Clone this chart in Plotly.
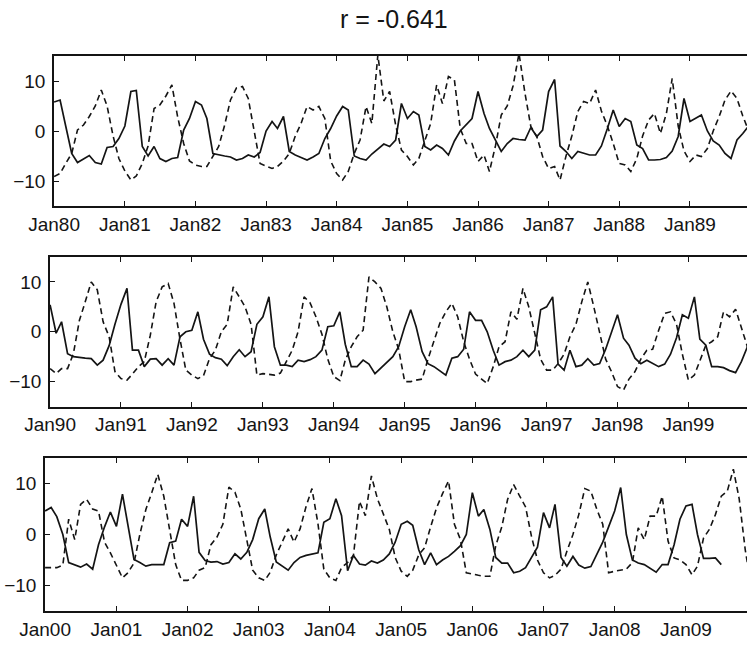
import pandas as pd
import plotly.graph_objects as go

# Monthly anomaly series, one decade per panel (solid and dashed series)
title_text = "r = -0.641"
decade_starts = ["1980-01-01", "1990-01-01", "2000-01-01"]

solid_1980s = [
    5.8, 6.2, 1.0, -4.5, -6.3, -5.5, -4.9, -6.3, -6.6, -3.3, -3.1, -1.5,
    1.0, 7.9, 8.1, -3.1, -5.0, -3.1, -5.5, -6.1, -5.5, -5.3, 0.2, 2.5,
    5.9, 5.2, 2.5, -4.5, -4.8, -5.0, -5.2, -5.8, -5.5, -4.8, -5.2, -4.3,
    0.0, 1.9, 0.5, 2.9, -4.1, -4.8, -5.3, -5.8, -5.2, -4.5, -1.5, 0.5,
    3.0, 4.9, 4.2, -5.0, -5.5, -5.8, -4.6, -3.5, -2.6, -3.1, -1.8, 5.5,
    2.5, 3.9, 3.2, -3.1, -3.8, -2.8, -3.5, -4.8, -2.0, 0.0, 1.2, 2.5,
    7.9, 3.5, 0.5, -2.0, -4.1, -2.5, -1.5, -1.7, -1.8, 0.7, -1.1, 0.2,
    7.9, 10.3, -3.0, -4.1, -5.5, -4.1, -4.5, -4.8, -4.8, -3.0, 0.5, 4.2,
    0.9, 2.5, 1.9, -2.8, -3.5, -5.8, -5.8, -5.7, -5.3, -4.0, -1.1, 6.5,
    1.9, 2.5, 3.2, 0.0, -2.0, -2.8, -4.5, -5.5, -1.8, -0.5, 1.0, 2.0,
]
dashed_1980s = [
    -9.1, -8.5, -6.5, -4.5, 0.2, 1.2, 2.9, 5.0, 8.2, 5.0, -1.0, -5.5,
    -8.0, -9.8, -9.0, -6.5, -3.0, 4.5, 5.2, 7.0, 9.2, 2.8, -2.5, -6.0,
    -6.8, -7.1, -7.1, -5.0, -3.1, 1.2, 6.2, 8.6, 8.9, 6.5, -0.5, -6.5,
    -7.0, -7.5, -7.1, -6.0, -4.5, -1.0, 1.5, 4.9, 4.2, 4.9, 2.5, -6.0,
    -8.5, -9.8, -8.1, -4.5, -1.8, 4.9, 1.5, 15.2, 6.0, 7.9, 1.2, -3.8,
    -5.1, -6.8, -5.5, -2.0, 1.5, 9.2, 5.5, 10.9, 10.2, 0.5, -2.5, -2.5,
    -6.1, -4.8, -8.1, -3.0, 3.2, 5.0, 9.0, 15.5, 7.5, 0.9, -1.1, -5.1,
    -7.5, -7.1, -9.8, -5.0, -1.0, 3.9, 5.9, 5.5, 8.2, 4.0, 1.0, -2.5,
    -6.5, -6.8, -8.1, -5.5, -1.0, 2.2, 3.5, -0.5, 3.5, 10.5, 1.0, -4.0,
    -6.1, -4.8, -5.1, -3.5, 0.0, 2.9, 6.2, 8.0, 6.5, 3.0, 0.0, -3.0,
]

solid_1990s = [
    5.4, -0.3, 2.0, -4.4, -5.0, -5.2, -5.3, -5.4, -6.7, -5.7, -2.8, 1.5,
    5.5, 8.7, -3.7, -3.7, -7.0, -5.5, -5.4, -6.7, -5.4, -6.7, -1.0, 0.0,
    0.3, 4.0, -1.5, -4.5, -5.2, -5.5, -6.8, -5.0, -3.6, -5.0, -4.0, 1.5,
    3.0, 7.0, -3.0, -6.7, -6.7, -7.0, -5.7, -6.0, -5.6, -5.0, -3.7, 1.0,
    1.2, 4.0, -2.5, -7.0, -7.0, -5.7, -6.5, -8.4, -7.2, -6.2, -5.0, -3.0,
    1.0, 4.4, 1.0, -4.0, -6.4, -7.0, -7.8, -8.7, -5.3, -5.0, -3.5, 4.0,
    2.3, 2.3, 0.0, -3.7, -6.7, -6.0, -5.7, -5.0, -3.7, -5.0, -3.7, 4.4,
    5.0, 7.0, -6.5, -7.7, -3.7, -7.0, -6.7, -5.4, -6.7, -6.4, -3.5, 0.0,
    3.4, -1.3, -2.7, -5.3, -6.4, -5.7, -6.3, -7.0, -6.5, -4.5, -1.2, 3.4,
    2.7, 7.0, -1.5, -2.7, -7.0, -7.0, -7.2, -7.8, -8.2, -6.0, -3.0, 0.0,
]
dashed_1990s = [
    -7.4, -8.4, -7.4, -7.4, -4.4, 2.3, 6.0, 10.0, 8.4, 2.0, -1.0, -8.0,
    -9.4, -9.7, -8.5, -7.0, -6.0, -0.7, 6.0, 9.0, 9.7, 5.7, -1.5, -7.7,
    -8.7, -9.4, -8.8, -5.4, -3.7, 0.0, 1.5, 9.0, 7.0, 5.0, 1.5, -8.7,
    -8.4, -8.5, -8.7, -8.3, -6.0, -3.7, 0.0, 7.0, 5.8, 3.0, -0.5, -5.5,
    -9.0, -9.8, -5.7, -3.0, -1.0, 0.3, 11.0, 10.0, 8.7, 5.0, 0.0, -3.5,
    -10.0, -10.0, -9.7, -9.5, -5.5, -2.0, 1.7, 4.0, 5.7, 3.0, -2.0, -5.5,
    -8.5, -9.5, -10.4, -7.0, -3.0, -2.0, 4.0, 2.5, 8.7, 5.0, -0.5, -5.5,
    -7.7, -7.7, -6.4, -4.5, -1.0, 1.5, 6.0, 10.0, 5.0, 0.0, -5.5, -8.0,
    -11.0, -11.7, -9.5, -8.0, -5.5, -3.7, -3.5, 0.3, 3.7, 4.0, 1.5, -4.5,
    -9.7, -8.7, -5.7, -2.7, -2.0, -1.0, 4.0, 3.0, 4.5, 1.0, -3.0, -4.0,
]

solid_2000s = [
    4.6, 5.3, 3.5, 0.0, -5.5, -6.0, -6.4, -5.8, -6.8, -2.0, 1.5, 4.4,
    1.6, 7.9, 1.5, -4.9, -5.5, -6.2, -5.9, -5.9, -5.9, -1.6, -1.3, 3.0,
    1.6, 7.5, -3.5, -5.1, -5.4, -5.3, -5.8, -5.5, -3.8, -4.8, -3.5, -1.0,
    3.1, 5.0, -0.5, -5.4, -6.2, -7.0, -5.5, -4.5, -4.1, -3.9, -3.6, 2.4,
    3.1, 7.0, 3.7, -7.1, -4.1, -5.8, -6.0, -5.2, -5.6, -5.0, -3.8, -1.5,
    2.0, 2.6, 1.8, -3.0, -5.9, -3.6, -5.9, -5.0, -4.3, -3.3, -2.2, 0.0,
    8.2, 3.6, 4.9, 1.0, -4.5, -5.6, -5.6, -7.5, -7.2, -6.5, -4.5, -2.5,
    4.3, 1.3, 5.9, -4.5, -6.2, -4.3, -6.0, -6.6, -6.3, -4.0, -1.5, 1.5,
    4.6, 9.2, 0.0, -5.0, -5.6, -5.9, -6.6, -7.4, -5.9, -5.9, -2.0, 3.0,
    5.6, 5.9, 0.0, -4.7, -4.7, -4.6, -5.9, None, None, None, None, None,
]
dashed_2000s = [
    -6.5, -6.5, -6.5, -6.0, 3.0, -1.0, 5.9, 6.9, 5.0, 4.6, -1.5, -3.6,
    -6.0, -8.5, -7.5, -5.6, 0.0, 4.9, 8.2, 11.8, 7.5, 1.0, -5.9, -9.0,
    -9.0, -8.5, -7.0, -6.5, -2.0, -0.5, 2.0, 9.3, 8.3, 5.0, -1.5, -7.0,
    -8.5, -9.0, -7.4, -4.0, -1.5, 1.1, -1.5, 1.1, 5.5, 9.0, 2.1, -6.8,
    -8.5, -9.0, -6.5, -5.5, -4.1, 6.5, 3.7, 11.5, 7.0, 4.0, 1.0, -4.5,
    -7.2, -8.2, -7.0, -4.0, -2.6, 1.5, 5.2, 8.0, 10.5, 2.0, -1.0, -7.5,
    -7.8, -8.0, -8.2, -8.2, -2.2, 1.5, 6.9, 9.8, 7.5, 5.4, -0.5, -5.0,
    -7.5, -8.5, -8.0, -6.8, -3.3, 0.0, 3.9, 9.0, 8.5, 5.0, 2.0, -7.5,
    -7.2, -7.0, -6.8, -5.5, 1.3, -1.0, 3.6, 3.6, 7.5, -1.3, -4.6, -5.0,
    -5.9, -7.9, -6.2, -0.7, 1.0, 3.9, 7.5, 8.5, 12.8, 7.0, -3.0, -10.0,
]

panels = [
    (decade_starts[0], solid_1980s, dashed_1980s),
    (decade_starts[1], solid_1990s, dashed_1990s),
    (decade_starts[2], solid_2000s, dashed_2000s),
]

# panel geometry (pixels on a 747 x 657 canvas)
W, H = 747, 657
left_px = [54, 50, 45]
top_px = [56, 257, 458]
bottom_px = [206, 406.5, 611]
months_shown = [117.7, 117.9, 118.3]

ink = "#141414"
font_family = "Liberation Sans, Arial, Helvetica, sans-serif"

fig = go.Figure()
layout_axes = {}
for i, (start, solid, dashed) in enumerate(panels):
    n = i + 1
    xa = "x" if n == 1 else f"x{n}"
    ya = "y" if n == 1 else f"y{n}"
    dates = pd.date_range(start=start, periods=len(solid), freq="MS")
    fig.add_trace(go.Scatter(x=dates, y=solid, mode="lines", xaxis=xa, yaxis=ya,
                             line=dict(color=ink, width=1.7), connectgaps=False,
                             showlegend=False, hoverinfo="skip"))
    fig.add_trace(go.Scatter(x=dates, y=dashed, mode="lines", xaxis=xa, yaxis=ya,
                             line=dict(color=ink, width=1.6, dash="6px,4px"),
                             showlegend=False, hoverinfo="skip"))
    t0 = pd.Timestamp(start)
    x_start = t0 - pd.Timedelta(hours=12)
    x_end = t0 + pd.Timedelta(days=months_shown[i] * 30.44)
    xname = "xaxis" if n == 1 else f"xaxis{n}"
    yname = "yaxis" if n == 1 else f"yaxis{n}"
    layout_axes[xname] = dict(
        type="date", domain=[left_px[i] / W, 1.0],
        range=[x_start, x_end], anchor=ya, automargin=False,
        tick0=start, dtick="M12", tickformat="%b%y",
        ticks="inside", ticklen=5, tickwidth=1.3, tickcolor=ink,
        showline=True, linecolor=ink, linewidth=1.6, mirror="ticks",
        showgrid=False, zeroline=False, ticklabelstandoff=0,
        tickfont=dict(family=font_family, size=19, color=ink),
    )
    layout_axes[yname] = dict(
        domain=[1 - bottom_px[i] / H, 1 - top_px[i] / H],
        range=[-15, 15], anchor=xa, automargin=False, tickvals=[-10, 0, 10],
        ticks="inside", ticklen=5, tickwidth=1.3, tickcolor=ink,
        showline=True, linecolor=ink, linewidth=1.6, mirror=False,
        showgrid=False, zeroline=False, ticklabelstandoff=3,
        tickfont=dict(family=font_family, size=19, color=ink),
    )

fig.update_layout(
    width=W, height=H,
    margin=dict(l=0, r=0, t=0, b=0),
    paper_bgcolor="white", plot_bgcolor="white",
    font=dict(family=font_family, color=ink),
    annotations=[dict(text=title_text, x=394 / W, y=1 - 19 / H,
                      xref="paper", yref="paper", showarrow=False,
                      xanchor="center", yanchor="middle",
                      font=dict(family=font_family, size=25, color=ink))],
    **layout_axes,
)

fig.write_html("out.html")
